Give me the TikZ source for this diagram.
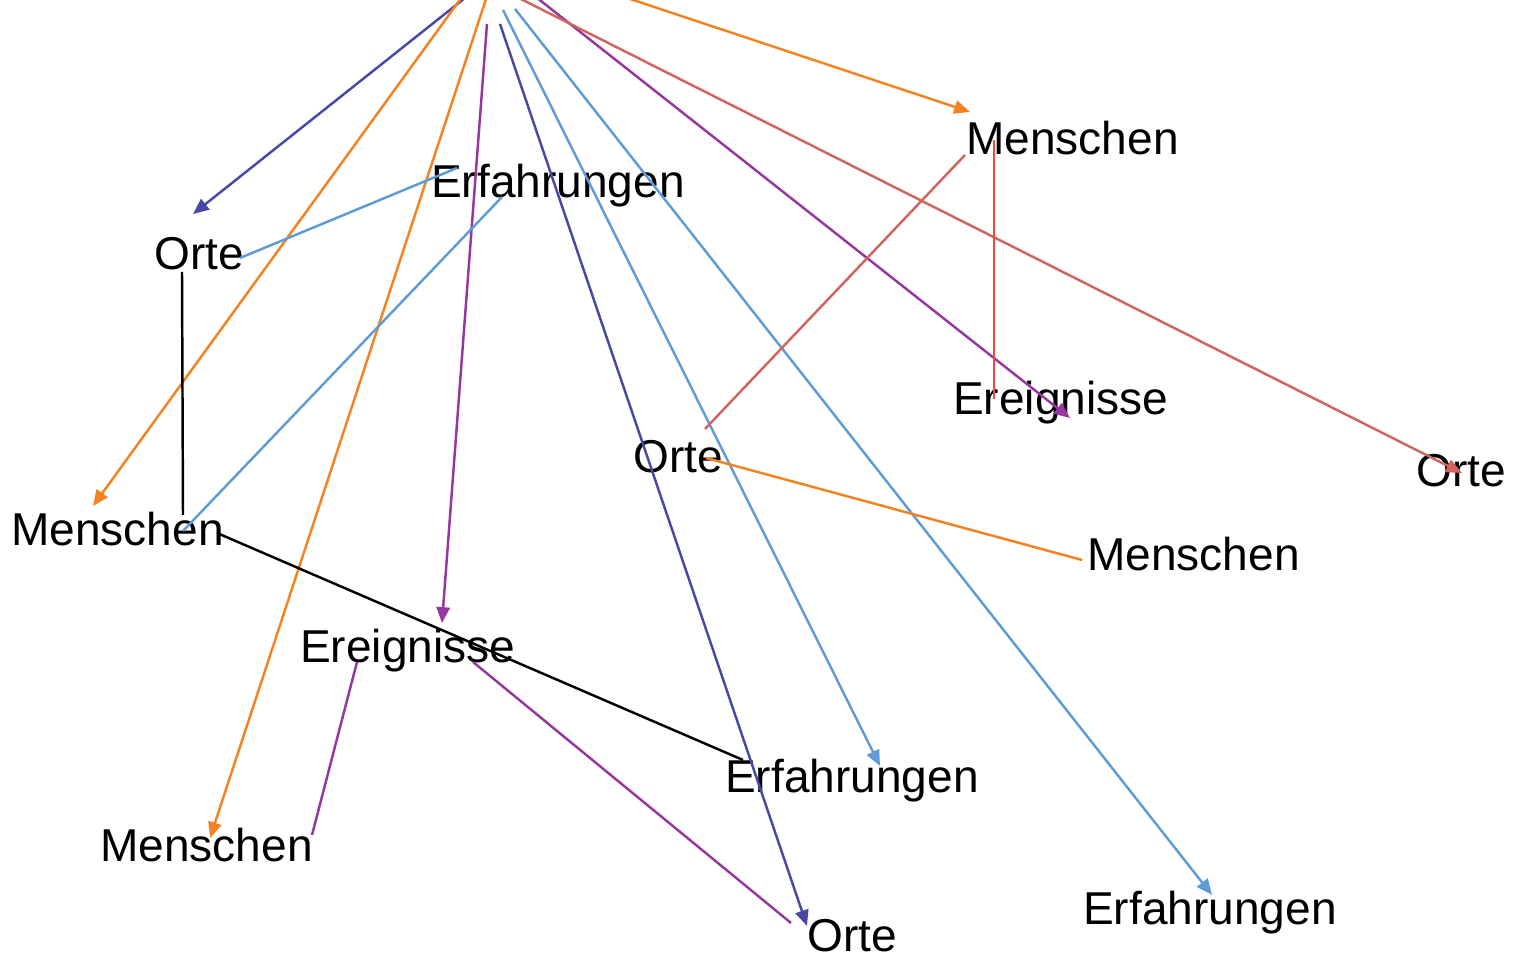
\documentclass[tikz,border=0pt]{standalone}
\usepackage{fontspec}
\setmainfont{Liberation Sans}
\usetikzlibrary{arrows.meta}
\definecolor{navyline}{RGB}{72,72,165}
\definecolor{orangeline}{RGB}{245,130,32}
\definecolor{purpleline}{RGB}{150,55,160}
\definecolor{blueline}{RGB}{95,155,215}
\definecolor{salmonline}{RGB}{210,100,95}
\definecolor{redline}{RGB}{235,75,60}

\begin{document}
\begin{tikzpicture}[x=0.01cm,y=-0.01cm,line width=0.7pt,
  >={Triangle[length=4.5pt,width=3.8pt]},
  lbl/.style={anchor=base west,inner sep=0pt,font=\fontsize{13.1}{15}\selectfont}]

\useasboundingbox (0,0) rectangle (1523,965);

%%%%%%%%%%%%%%%%%%%%%%%%%%%%%%%%%%%%%%

\coordinate (top) at (500,0);

\node[lbl] (menTR) at (965,155) {Menschen};
\node[lbl] (erfT) at (430,198) {Erfahrungen};
\node[lbl] (orteL) at (153,270) {Orte};
\node[lbl] (ereR) at (952,415) {Ereignisse};
\node[lbl] (orteM) at (632,473) {Orte};
\node[lbl] (orteR) at (1415,487) {Orte};
\node[lbl] (menL) at (10,546) {Menschen};
\node[lbl] (menR) at (1086,571) {Menschen};
\node[lbl] (ereM) at (299,663) {Ereignisse};
\node[lbl] (erfM) at (724,793) {Erfahrungen};
\node[lbl] (menB) at (99,862) {Menschen};
\node[lbl] (orteB) at (806,952) {Orte};
\node[lbl] (erfB) at (1082,925) {Erfahrungen};

%%%%%%%%%%%%%%%%%%%%%%%%%%%%%%%%%%%%%%

\draw[->,navyline] ([shift={(-25,-10)}]top) -- ([shift={(40,-56)}]orteL.base west);
\draw[->,orangeline] ([shift={(-33,-10)}]top) -- ([shift={(83,-40)}]menL.base west);
\draw[->,orangeline] ([shift={(-11,-10)}]top) -- ([shift={(111,-24)}]menB.base west);
\draw[->,purpleline] ([shift={(-13,24)}]top) -- ([shift={(143,-40)}]ereM.base west);
\draw[->,navyline] ([shift={(0,24)}]top) -- ([shift={(1,-26)}]orteB.base west);
\draw[->,blueline] ([shift={(3,10)}]top) -- ([shift={(156,-27)}]erfM.base west);
\draw[->,blueline] ([shift={(15,9)}]top) -- ([shift={(130,-30)}]erfB.base west);
\draw[->,orangeline] ([shift={(103,-10)}]top) -- ([shift={(5,-43)}]menTR.base west);
\draw[->,purpleline] ([shift={(27,-10)}]top) -- ([shift={(118,3)}]ereR.base west);
\draw[->,salmonline] ([shift={(3,-10)}]top) -- ([shift={(47,-14)}]orteR.base west);

%%%%%%%%%%%%%%%%%%%%%%%%%%%%%%%%%%%%%%

\draw[blueline] ([shift={(87,-12)}]orteL.base west) -- ([shift={(27,-30)}]erfT.base west);
\draw[blueline] ([shift={(72,-1)}]erfT.base west) -- ([shift={(173,-15)}]menL.base west);
\draw[salmonline] ([shift={(0,0)}]menTR.base west) -- ([shift={(73,-44)}]orteM.base west);
\draw[redline] ([shift={(29,-15)}]menTR.base west) -- ([shift={(42,-16)}]ereR.base west);
\draw ([shift={(29,2)}]orteL.base west) -- ([shift={(173,-31)}]menL.base west);
\draw ([shift={(207,-13)}]menL.base west) -- ([shift={(19,-33)}]erfM.base west);
\draw[orangeline] ([shift={(74,-15)}]orteM.base west) -- ([shift={(-4,-11)}]menR.base west);
\draw[purpleline] ([shift={(58,-1)}]ereM.base west) -- ([shift={(213,-27)}]menB.base west);
\draw[purpleline] ([shift={(174,-1)}]ereM.base west) -- ([shift={(-15,-29)}]orteB.base west);

\end{tikzpicture}
\end{document}
